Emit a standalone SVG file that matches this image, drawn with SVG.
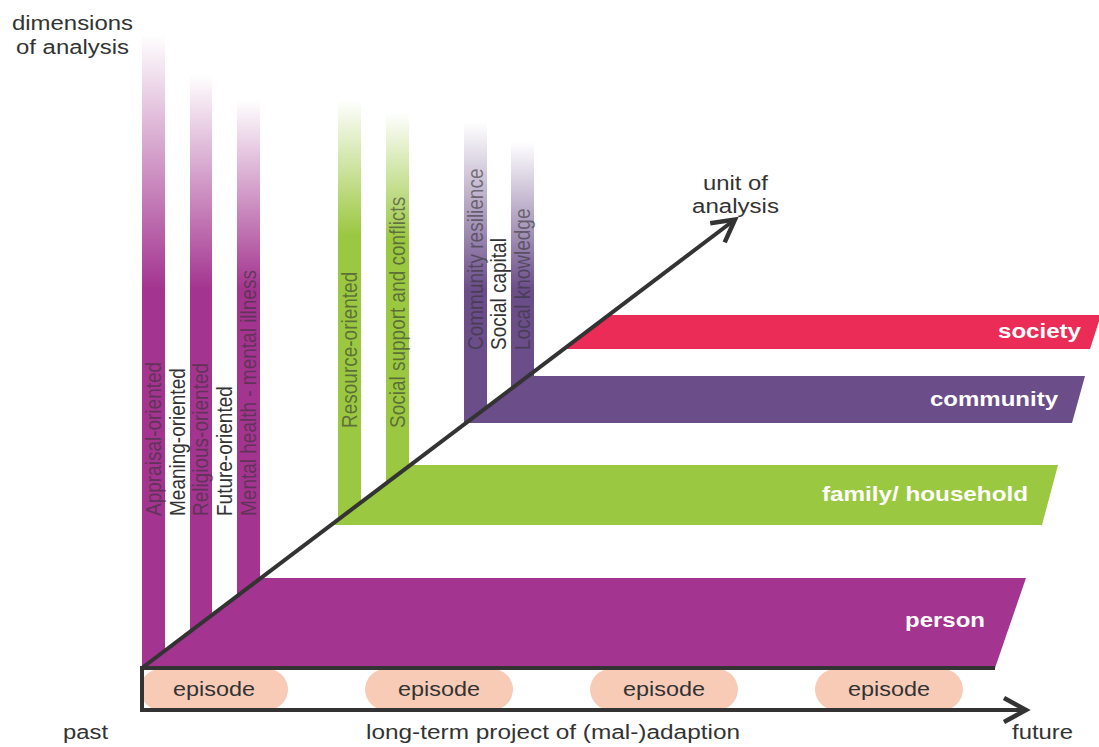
<svg xmlns="http://www.w3.org/2000/svg" width="1099" height="747" viewBox="0 0 1099 747">
<style>
.lbl{font-family:"Liberation Sans",Arial,sans-serif;font-size:20px;fill:#333333}
.band{font-family:"Liberation Sans",Arial,sans-serif;font-size:20px;font-weight:bold;fill:#ffffff}
.rot{font-family:"Liberation Sans",Arial,sans-serif;font-size:19px;fill:#333333}
.onbar{fill-opacity:0.6}
.axis{fill:none;stroke:#333333;stroke-width:4}
.pill{fill:#f8cbb7}
</style>
<defs>
<linearGradient id="gM1" gradientUnits="userSpaceOnUse" x1="0" y1="35" x2="0" y2="290"><stop offset="0" stop-color="#a3348f" stop-opacity="0"/><stop offset="1" stop-color="#a3348f"/></linearGradient>
<linearGradient id="gM2" gradientUnits="userSpaceOnUse" x1="0" y1="75" x2="0" y2="290"><stop offset="0" stop-color="#a3348f" stop-opacity="0"/><stop offset="1" stop-color="#a3348f"/></linearGradient>
<linearGradient id="gM3" gradientUnits="userSpaceOnUse" x1="0" y1="100" x2="0" y2="290"><stop offset="0" stop-color="#a3348f" stop-opacity="0"/><stop offset="1" stop-color="#a3348f"/></linearGradient>
<linearGradient id="gG1" gradientUnits="userSpaceOnUse" x1="0" y1="100" x2="0" y2="235"><stop offset="0" stop-color="#9bc841" stop-opacity="0"/><stop offset="1" stop-color="#9bc841"/></linearGradient>
<linearGradient id="gG2" gradientUnits="userSpaceOnUse" x1="0" y1="112" x2="0" y2="240"><stop offset="0" stop-color="#9bc841" stop-opacity="0"/><stop offset="1" stop-color="#9bc841"/></linearGradient>
<linearGradient id="gC1" gradientUnits="userSpaceOnUse" x1="0" y1="122" x2="0" y2="290"><stop offset="0" stop-color="#6b4d8a" stop-opacity="0"/><stop offset="1" stop-color="#6b4d8a"/></linearGradient>
<linearGradient id="gC2" gradientUnits="userSpaceOnUse" x1="0" y1="142" x2="0" y2="290"><stop offset="0" stop-color="#6b4d8a" stop-opacity="0"/><stop offset="1" stop-color="#6b4d8a"/></linearGradient>
<marker id="chev" markerUnits="userSpaceOnUse" viewBox="-30 -15 40 30" refX="0" refY="0" markerWidth="40" markerHeight="30" orient="auto" overflow="visible">
<path d="M-22,-12 L0,0 L-22,12" fill="none" stroke="#333333" stroke-width="4.5" stroke-linejoin="miter"/>
</marker>
</defs>

<g id="dimension-bars">
<rect x="142" y="35" width="23" height="633" fill="url(#gM1)"/>
<rect x="190" y="75" width="22" height="593" fill="url(#gM2)"/>
<rect x="237" y="100" width="23" height="568" fill="url(#gM3)"/>
<polygon points="338,100 361,100 361,502.4 338,519.8" fill="url(#gG1)"/>
<polygon points="386,112 409,112 409,466 386,483.5" fill="url(#gG2)"/>
<polygon points="464,122 487,122 487,407.1 464,424.5" fill="url(#gC1)"/>
<polygon points="511,142 534,142 534,376 511,389" fill="url(#gC2)"/>
</g>

<g id="society"><polygon points="564,349 609,315 1101,315 1090,349" fill="#ea2c57"/><text class="band" x="998" y="338" textLength="83" lengthAdjust="spacingAndGlyphs">society</text></g>
<g id="community"><polygon points="466,423 528,376 1085,376 1072,423" fill="#6b4d8a"/><text class="band" x="930" y="406" textLength="128" lengthAdjust="spacingAndGlyphs">community</text></g>
<g id="family"><polygon points="331,525 410,465 1058,465 1042,525" fill="#9bc841"/><text class="band" x="822" y="501" textLength="206" lengthAdjust="spacingAndGlyphs">family/ household</text></g>
<g id="person"><polygon points="142,668 261,578 1026,578 995,668" fill="#a3348f"/><text class="band" x="905" y="627" textLength="80" lengthAdjust="spacingAndGlyphs">person</text></g>

<g id="episodes">
<g id="episode1"><rect class="pill" x="140" y="669" width="148" height="41" rx="20.5"/><text class="lbl" x="173" y="696" textLength="82" lengthAdjust="spacingAndGlyphs">episode</text></g>
<g id="episode2"><rect class="pill" x="365" y="669" width="148" height="41" rx="20.5"/><text class="lbl" x="398" y="696" textLength="82" lengthAdjust="spacingAndGlyphs">episode</text></g>
<g id="episode3"><rect class="pill" x="590" y="669" width="148" height="41" rx="20.5"/><text class="lbl" x="623" y="696" textLength="82" lengthAdjust="spacingAndGlyphs">episode</text></g>
<g id="episode4"><rect class="pill" x="815" y="669" width="148" height="41" rx="20.5"/><text class="lbl" x="848" y="696" textLength="82" lengthAdjust="spacingAndGlyphs">episode</text></g>
</g>

<g id="connectors">
<path class="axis" d="M995,668 L142,668 L142,710 L1026,710" marker-end="url(#chev)"/>
<path class="axis" d="M142,668 L735,219.5" marker-end="url(#chev)"/>
</g>

<g id="dimension-labels">
<text class="rot onbar" transform="translate(161,516) scale(1.18,1) rotate(-90)">Appraisal-oriented</text>
<text class="rot" transform="translate(184.5,516) scale(1.18,1) rotate(-90)">Meaning-oriented</text>
<text class="rot onbar" transform="translate(208,516) scale(1.18,1) rotate(-90)">Religious-oriented</text>
<text class="rot" transform="translate(231.5,516) scale(1.18,1) rotate(-90)">Future-oriented</text>
<text class="rot onbar" transform="translate(255.5,516) scale(1.18,1) rotate(-90)">Mental health - mental illness</text>
<text class="rot onbar" transform="translate(356.5,428) scale(1.18,1) rotate(-90)">Resource-oriented</text>
<text class="rot onbar" transform="translate(404.5,428) scale(1.18,1) rotate(-90)">Social support and conflicts</text>
<text class="rot onbar" transform="translate(482.5,350) scale(1.18,1) rotate(-90)">Community resilience</text>
<text class="rot" transform="translate(506,350) scale(1.18,1) rotate(-90)">Social capital</text>
<text class="rot onbar" transform="translate(529.5,350) scale(1.18,1) rotate(-90)">Local knowledge</text>
</g>

<g id="axis-labels">
<text class="lbl" x="12" y="30" textLength="121" lengthAdjust="spacingAndGlyphs">dimensions</text>
<text class="lbl" x="16" y="54" textLength="113" lengthAdjust="spacingAndGlyphs">of analysis</text>
<text class="lbl" x="703" y="190" textLength="65" lengthAdjust="spacingAndGlyphs">unit of</text>
<text class="lbl" x="692" y="213" textLength="87" lengthAdjust="spacingAndGlyphs">analysis</text>
<text class="lbl" x="63" y="739" textLength="45" lengthAdjust="spacingAndGlyphs">past</text>
<text class="lbl" x="366" y="739" textLength="374" lengthAdjust="spacingAndGlyphs">long-term project of (mal-)adaption</text>
<text class="lbl" x="1012" y="739" textLength="61" lengthAdjust="spacingAndGlyphs">future</text>
</g>
</svg>
